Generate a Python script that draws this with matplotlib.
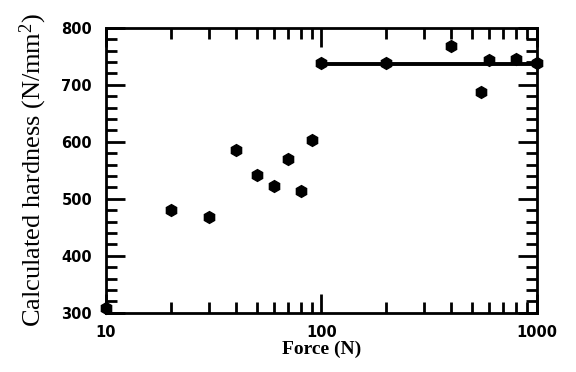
import numpy as np
import matplotlib.pyplot as plt
from matplotlib.ticker import FixedLocator, MultipleLocator, LogLocator, NullFormatter

# ----- data -----
force = [10, 20, 30, 40, 50, 60, 70, 80, 90, 100, 200, 400, 550, 600, 800, 1000]  # (N)
hardness = [309, 480, 468, 586, 542, 523, 570, 513, 603, 739, 738, 768, 688, 744, 745, 739]  # (N/mm2)

plateau_force = [100, 1000]
plateau_hardness = [737, 737]

y_ticks = [300, 400, 500, 600, 700, 800]
x_ticks = [10, 100, 1000]
x_tick_labels = ['10', '100', '1000']

plt.rcParams['mathtext.fontset'] = 'custom'
plt.rcParams['mathtext.rm'] = 'Liberation Serif'

plt.close()
fig = plt.figure(figsize=(5.76, 3.72), dpi=100)
ax = fig.add_axes([0.184, 0.159, 0.748, 0.766])

ax.plot(plateau_force, plateau_hardness, color='black', linewidth=2.8, zorder=2)
ax.plot(force, hardness, linestyle='none', marker='h', markersize=8.5,
        color='black', clip_on=False, zorder=3)

ax.set_xscale('log')
ax.set_xlim(10, 1000)
ax.set_ylim(300, 800)

ax.xaxis.set_major_locator(FixedLocator(x_ticks))
ax.set_xticklabels(x_tick_labels)
ax.xaxis.set_minor_locator(LogLocator(base=10, subs=np.arange(2, 10)))
ax.xaxis.set_minor_formatter(NullFormatter())
ax.yaxis.set_major_locator(FixedLocator(y_ticks))
ax.yaxis.set_minor_locator(MultipleLocator(20))

for s in ax.spines.values():
    s.set_linewidth(2)

ax.tick_params(which='both', direction='in', top=True, right=True, width=2)
ax.tick_params(which='major', length=14)
ax.tick_params(which='minor', length=8)
ax.tick_params(axis='y', which='major', pad=10)
ax.tick_params(axis='x', which='major', pad=9)
for lab in ax.get_xticklabels() + ax.get_yticklabels():
    lab.set_fontfamily('DejaVu Sans')
    lab.set_fontweight('bold')
    lab.set_fontsize(10.5)

ax.set_xlabel('Force (N)', family='Liberation Serif', fontweight='bold', fontsize=14, labelpad=0)
ax.set_ylabel('Calculated hardness (N/mm$\\mathrm{^2}$)', family='Liberation Serif',
              fontsize=19, labelpad=9)

fig.savefig('out.png', dpi=100)
